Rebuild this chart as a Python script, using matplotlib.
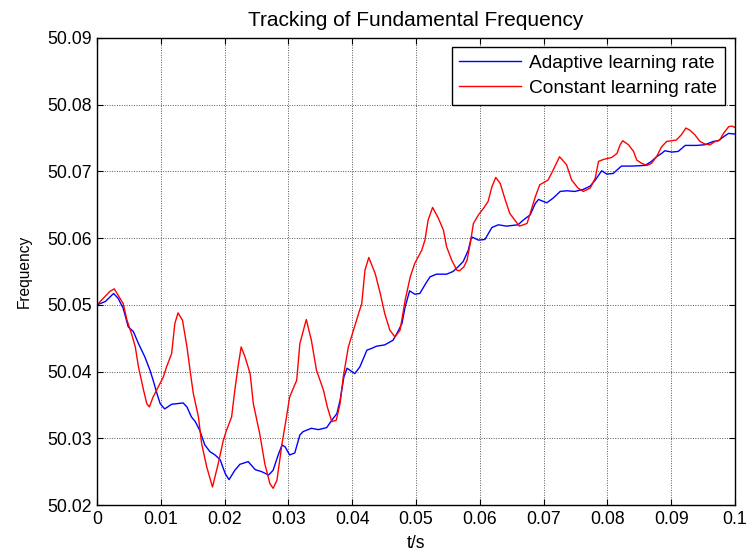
import matplotlib
matplotlib.use("Agg")
import matplotlib.pyplot as plt
import numpy as np

plt.rcParams['font.family'] = ['Liberation Sans', 'DejaVu Sans']

# Time axis (s) and frequency estimates (Hz) for both learning schemes
t_constant = [0, 0.002, 0.0027, 0.0041, 0.0047, 0.0054, 0.006, 0.0065, 0.0073, 0.0078,
              0.0082, 0.0088, 0.0096, 0.0104, 0.0109, 0.0117, 0.0122, 0.0127, 0.0134, 0.0141,
              0.0148, 0.0151, 0.0159, 0.0164, 0.0172, 0.0181, 0.019, 0.0198, 0.0203, 0.0211,
              0.0216, 0.0221, 0.0226, 0.0232, 0.024, 0.0245, 0.0255, 0.0263, 0.0271, 0.0276,
              0.0282, 0.029, 0.0297, 0.0302, 0.0313, 0.0318, 0.0328, 0.0336, 0.0344, 0.0355,
              0.0361, 0.0368, 0.0375, 0.0381, 0.0386, 0.0394, 0.0402, 0.041, 0.0415, 0.042,
              0.0426, 0.0436, 0.0444, 0.0451, 0.0459, 0.0467, 0.0475, 0.0483, 0.0491, 0.0498,
              0.0509, 0.0514, 0.0519, 0.0526, 0.0535, 0.0543, 0.0548, 0.0556, 0.0564, 0.0568,
              0.0575, 0.058, 0.0585, 0.059, 0.0598, 0.0606, 0.0613, 0.0619, 0.0625, 0.0632,
              0.064, 0.0647, 0.0662, 0.0674, 0.0679, 0.0687, 0.0694, 0.0707, 0.0715, 0.0725,
              0.0736, 0.0744, 0.0754, 0.0762, 0.0773, 0.0781, 0.0786, 0.0794, 0.0807, 0.0815,
              0.082, 0.0824, 0.0833, 0.0841, 0.0846, 0.0854, 0.0862, 0.0869, 0.0877, 0.0885,
              0.0893, 0.0908, 0.0916, 0.0923, 0.0929, 0.0937, 0.0945, 0.0953, 0.0961, 0.0969,
              0.0976, 0.0982, 0.099, 0.0995, 0.1]
f_constant = [50.0500, 50.0520, 50.0524, 50.0502, 50.0477, 50.0457, 50.0437, 50.0407, 50.0372, 50.0352,
              50.0347, 50.0362, 50.0377, 50.0392, 50.0407, 50.0427, 50.0472, 50.0488, 50.0477, 50.0437,
              50.0387, 50.0367, 50.0332, 50.0292, 50.0257, 50.0227, 50.0262, 50.0297, 50.0312, 50.0332,
              50.0372, 50.0407, 50.0437, 50.0422, 50.0397, 50.0352, 50.0307, 50.0262, 50.0232, 50.0225,
              50.0237, 50.0292, 50.0332, 50.0362, 50.0387, 50.0442, 50.0478, 50.0447, 50.0402, 50.0372,
              50.0347, 50.0325, 50.0327, 50.0352, 50.0392, 50.0437, 50.0462, 50.0487, 50.0502, 50.0552,
              50.0571, 50.0547, 50.0517, 50.0487, 50.0462, 50.0452, 50.0462, 50.0507, 50.0542, 50.0562,
              50.0582, 50.0597, 50.0627, 50.0646, 50.0630, 50.0612, 50.0587, 50.0567, 50.0552, 50.0551,
              50.0557, 50.0567, 50.0592, 50.0622, 50.0635, 50.0645, 50.0655, 50.0677, 50.0691, 50.0682,
              50.0657, 50.0637, 50.0618, 50.0622, 50.0637, 50.0662, 50.0680, 50.0687, 50.0702, 50.0722,
              50.0710, 50.0687, 50.0675, 50.0670, 50.0675, 50.0690, 50.0715, 50.0718, 50.0721, 50.0727,
              50.0740, 50.0746, 50.0740, 50.0730, 50.0717, 50.0712, 50.0709, 50.0712, 50.0722, 50.0737,
              50.0745, 50.0747, 50.0755, 50.0765, 50.0762, 50.0755, 50.0745, 50.0741, 50.0740, 50.0745,
              50.0747, 50.0757, 50.0767, 50.0768, 50.0766]

t_adaptive = [0, 0.0013, 0.0026, 0.0033, 0.0041, 0.0049, 0.0057, 0.0065, 0.0075, 0.0083,
              0.0088, 0.0094, 0.0099, 0.0106, 0.0117, 0.0135, 0.0141, 0.0148, 0.0154, 0.0161,
              0.0169, 0.0177, 0.0185, 0.0193, 0.0201, 0.0207, 0.0216, 0.0224, 0.0237, 0.0248,
              0.0258, 0.0269, 0.0276, 0.0284, 0.029, 0.0295, 0.0302, 0.031, 0.0318, 0.0323,
              0.0336, 0.0347, 0.036, 0.0368, 0.0376, 0.0381, 0.0387, 0.0392, 0.0404, 0.0412,
              0.0423, 0.0431, 0.0438, 0.0451, 0.0464, 0.047, 0.0478, 0.0483, 0.049, 0.0498,
              0.0506, 0.0514, 0.0522, 0.0532, 0.0548, 0.0558, 0.0566, 0.0574, 0.0582, 0.0587,
              0.0598, 0.0608, 0.0619, 0.0629, 0.0642, 0.066, 0.0668, 0.0679, 0.0687, 0.0692,
              0.0705, 0.0715, 0.0726, 0.0736, 0.0749, 0.0762, 0.0773, 0.0781, 0.0791, 0.0799,
              0.0809, 0.0822, 0.0838, 0.0859, 0.0869, 0.0877, 0.0885, 0.089, 0.0901, 0.0911,
              0.0922, 0.094, 0.0953, 0.0966, 0.0974, 0.0982, 0.099, 0.1]
f_adaptive = [50.0500, 50.0505, 50.0517, 50.0510, 50.0495, 50.0467, 50.0460, 50.0442, 50.0422, 50.0402,
              50.0387, 50.0367, 50.0352, 50.0344, 50.0351, 50.0353, 50.0347, 50.0332, 50.0325, 50.0312,
              50.0290, 50.0280, 50.0275, 50.0268, 50.0247, 50.0238, 50.0252, 50.0261, 50.0265, 50.0253,
              50.0250, 50.0245, 50.0252, 50.0275, 50.0290, 50.0287, 50.0275, 50.0278, 50.0305, 50.0310,
              50.0315, 50.0313, 50.0316, 50.0327, 50.0337, 50.0357, 50.0392, 50.0405, 50.0397, 50.0407,
              50.0432, 50.0435, 50.0438, 50.0440, 50.0447, 50.0457, 50.0472, 50.0497, 50.0521, 50.0516,
              50.0517, 50.0530, 50.0542, 50.0546, 50.0546, 50.0550, 50.0557, 50.0565, 50.0582, 50.0602,
              50.0597, 50.0598, 50.0616, 50.0620, 50.0618, 50.0620, 50.0627, 50.0635, 50.0652, 50.0658,
              50.0653, 50.0660, 50.0670, 50.0671, 50.0670, 50.0673, 50.0678, 50.0687, 50.0701, 50.0696,
              50.0697, 50.0708, 50.0708, 50.0709, 50.0715, 50.0722, 50.0727, 50.0731, 50.0729, 50.0730,
              50.0739, 50.0739, 50.0740, 50.0745, 50.0746, 50.0752, 50.0757, 50.0756]

x_ticks = [0, 0.01, 0.02, 0.03, 0.04, 0.05, 0.06, 0.07, 0.08, 0.09, 0.1]
x_tick_labels = ['0', '0.01', '0.02', '0.03', '0.04', '0.05', '0.06', '0.07', '0.08', '0.09', '0.1']
y_ticks = [50.02, 50.03, 50.04, 50.05, 50.06, 50.07, 50.08, 50.09]
y_tick_labels = ['50.02', '50.03', '50.04', '50.05', '50.06', '50.07', '50.08', '50.09']

fig = plt.figure(figsize=(7.47, 5.54), dpi=100)
ax = fig.add_axes([97 / 747, 1 - 505 / 554, (735 - 97) / 747, (505 - 38) / 554])

ax.plot(t_adaptive, f_adaptive, color='#0000ff', lw=1.0, label='Adaptive learning rate')
ax.plot(t_constant, f_constant, color='#ff0000', lw=1.0, label='Constant learning rate')

ax.set_xlim(0, 0.1)
ax.set_ylim(50.02, 50.09)
ax.set_xticks(x_ticks)
ax.set_xticklabels(x_tick_labels)
ax.set_yticks(y_ticks)
ax.set_yticklabels(y_tick_labels)

ax.tick_params(direction='in', length=4, width=0.8, top=True, right=True,
               labelsize=12.7, colors='black', pad=4)
for sp in ax.spines.values():
    sp.set_linewidth(1.0)
    sp.set_color('black')

ax.grid(True, color='0.35', linestyle=(0, (1, 1.5)), linewidth=0.7)
ax.set_axisbelow(True)

ax.set_title('Tracking of Fundamental Frequency', fontsize=15, pad=9)
ax.set_xlabel('t/s', fontsize=12.7, labelpad=5)
ax.set_ylabel('Frequency', fontsize=11.2, labelpad=11)

leg = ax.legend(loc='upper right', bbox_to_anchor=((725 - 97) / 638, (505 - 47) / 467),
                borderaxespad=0, fontsize=13.8, handlelength=3.2, handletextpad=0.45,
                labelspacing=0.4, borderpad=0.4, fancybox=False, framealpha=1,
                edgecolor='black')
leg.get_frame().set_linewidth(1.0)

fig.savefig('out.png', dpi=100)
